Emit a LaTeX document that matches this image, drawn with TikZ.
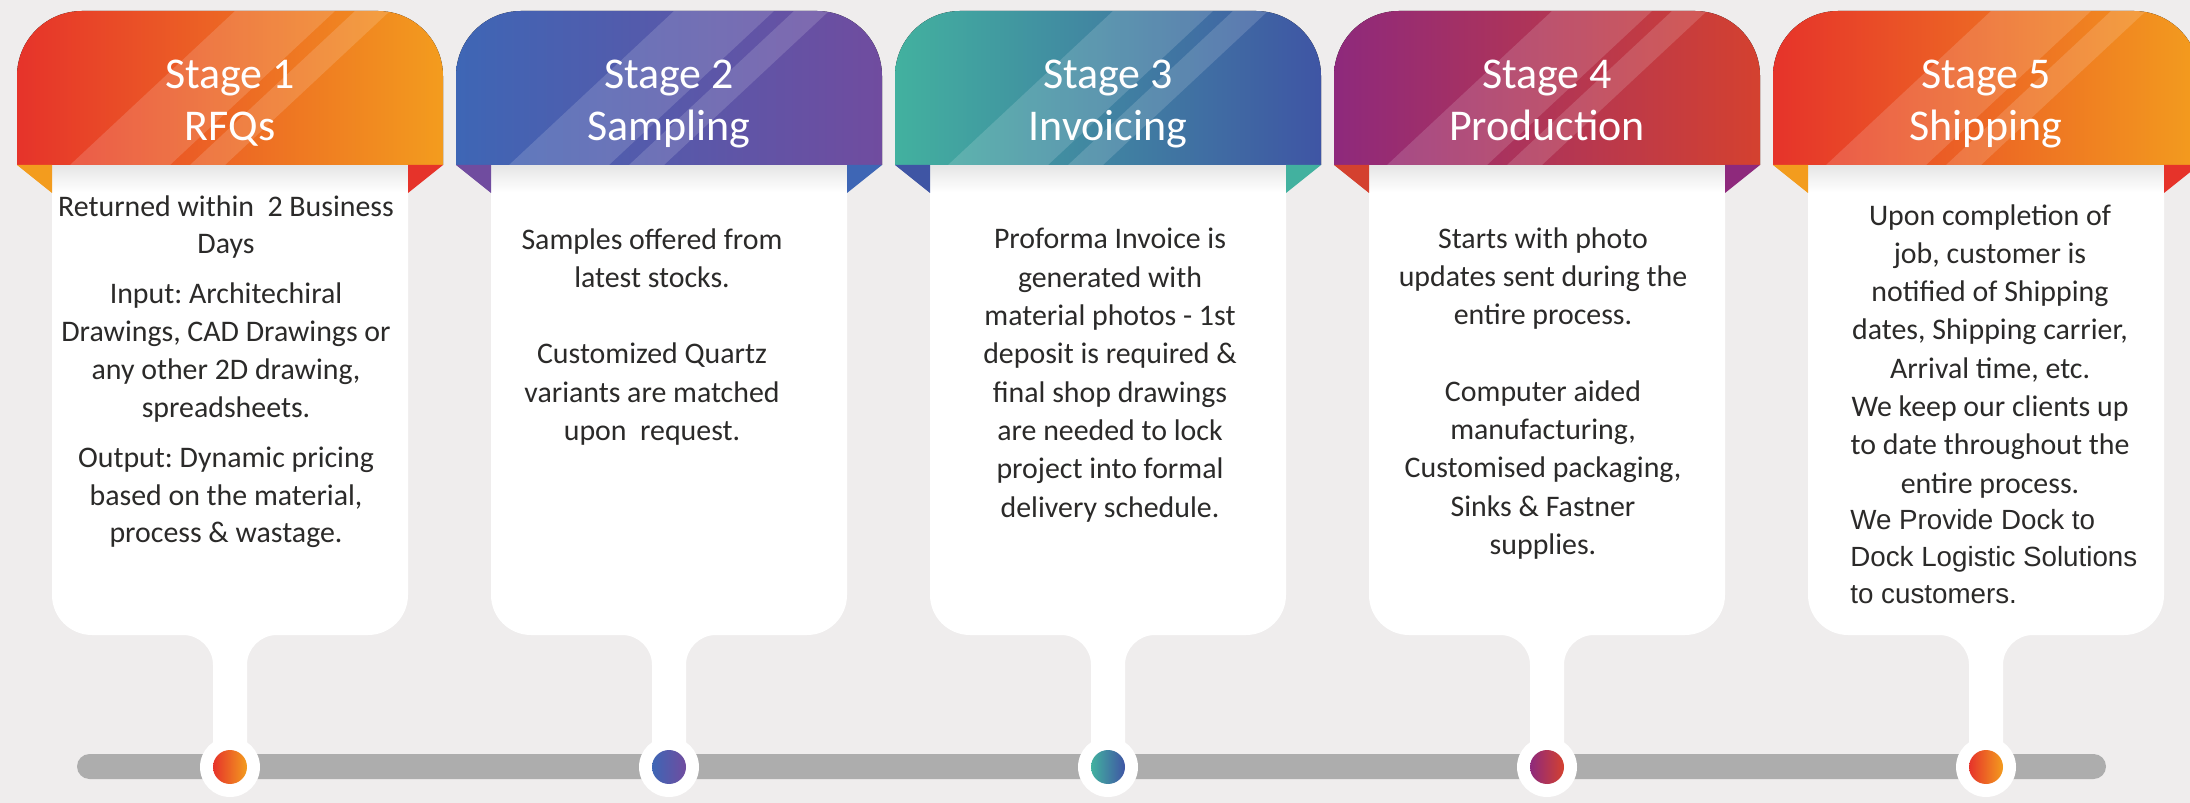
\documentclass[tikz,border=0pt]{standalone}
\usepackage{fontspec}
\setmainfont{Carlito}
\newfontfamily\dockfont{Liberation Sans}
\usetikzlibrary{calc}
\frenchspacing

\definecolor{bgc}{HTML}{EFEDED}
\definecolor{barc}{HTML}{ADADAD}
\definecolor{ink}{HTML}{2B2A29}
\definecolor{redA}{HTML}{E6332A}
\definecolor{orangeA}{HTML}{F39C1E}
\definecolor{blueA}{HTML}{3E66B5}
\definecolor{purpleA}{HTML}{704C9F}
\definecolor{tealA}{HTML}{42B19F}
\definecolor{navyA}{HTML}{3F55A4}
\definecolor{plumA}{HTML}{8E297C}
\definecolor{brickA}{HTML}{D4412F}

\begin{document}
\begin{tikzpicture}[x=0.02cm, y=-0.02cm,
    headtxt/.style={font=\fontsize{25pt}{29.6pt}\selectfont, text=white, align=center, inner sep=0pt, anchor=north},
    bodytxt/.style={font=\fontsize{17pt}{21.8pt}\selectfont, text=ink, align=center, inner sep=0pt, anchor=north},
    docktxt/.style={font=\dockfont\fontsize{15.8pt}{21pt}\selectfont, text=ink, align=left, inner sep=0pt, anchor=north west},
    card/.style={fill=white},
    shadowband/.style={top color=black!10, bottom color=white},
    halo/.style={circle, fill=white, minimum size=1.2cm, inner sep=0pt},
    dot/.style={circle, minimum size=0.68cm, inner sep=0pt},
    stripe/.style={white, opacity=0.15},
    stripes/.style={path picture={
        \fill[stripe] ($(path picture bounding box.south)+(-160,0)$) -- ($(path picture bounding box.south)+(-60,0)$)
            -- ($(path picture bounding box.north)+(105,0)$) -- ($(path picture bounding box.north)+(5,0)$) -- cycle;
        \fill[stripe] ($(path picture bounding box.south)+(-40,0)$) -- ($(path picture bounding box.south)+(-5,0)$)
            -- ($(path picture bounding box.north)+(160,0)$) -- ($(path picture bounding box.north)+(125,0)$) -- cycle;}}]

    \useasboundingbox (0,0) rectangle (2190,803);
    \fill[bgc] (0,0) rectangle (2190,803);

    % timeline bar
    \fill[barc, rounded corners=0.25cm] (77,754) rectangle (2106,779);

    % stage 1
    \fill[card] (230-178,150) -- (230-178,595) arc[start angle=180, end angle=90, radius=40] -- (230-47,635) arc[start angle=270, end angle=360, radius=30] -- (230-17,767) -- (230+17,767) -- (230+17,665) arc[start angle=180, end angle=270, radius=30] -- (230+138,635) arc[start angle=90, end angle=0, radius=40] -- (230+178,150) -- cycle;
    \shade[shadowband] (230-178,165) rectangle (230+178,192);
    \fill[left color=redA, right color=orangeA, stripes] (230-213,165) -- (230-213,76) arc[start angle=180, end angle=270, radius=65] -- (230+148,11) arc[start angle=270, end angle=360, radius=65] -- (230+213,165) -- cycle;
    \fill[orangeA] (230-213,165) -- (230-178,165) -- (230-178,193) -- cycle;
    \fill[redA] (230+178,165) -- (230+213,165) -- (230+178,193) -- cycle;
    \node[halo] (halo1) at (230,767) {};
    \node[dot, left color=redA, right color=orangeA] (dot1) at (230,767) {};

    % stage 2
    \fill[card] (669-178,150) -- (669-178,595) arc[start angle=180, end angle=90, radius=40] -- (669-47,635) arc[start angle=270, end angle=360, radius=30] -- (669-17,767) -- (669+17,767) -- (669+17,665) arc[start angle=180, end angle=270, radius=30] -- (669+138,635) arc[start angle=90, end angle=0, radius=40] -- (669+178,150) -- cycle;
    \shade[shadowband] (669-178,165) rectangle (669+178,192);
    \fill[left color=blueA, right color=purpleA, stripes] (669-213,165) -- (669-213,76) arc[start angle=180, end angle=270, radius=65] -- (669+148,11) arc[start angle=270, end angle=360, radius=65] -- (669+213,165) -- cycle;
    \fill[purpleA] (669-213,165) -- (669-178,165) -- (669-178,193) -- cycle;
    \fill[blueA] (669+178,165) -- (669+213,165) -- (669+178,193) -- cycle;
    \node[halo] (halo2) at (669,767) {};
    \node[dot, left color=blueA, right color=purpleA] (dot2) at (669,767) {};

    % stage 3
    \fill[card] (1108-178,150) -- (1108-178,595) arc[start angle=180, end angle=90, radius=40] -- (1108-47,635) arc[start angle=270, end angle=360, radius=30] -- (1108-17,767) -- (1108+17,767) -- (1108+17,665) arc[start angle=180, end angle=270, radius=30] -- (1108+138,635) arc[start angle=90, end angle=0, radius=40] -- (1108+178,150) -- cycle;
    \shade[shadowband] (1108-178,165) rectangle (1108+178,192);
    \fill[left color=tealA, right color=navyA, stripes] (1108-213,165) -- (1108-213,76) arc[start angle=180, end angle=270, radius=65] -- (1108+148,11) arc[start angle=270, end angle=360, radius=65] -- (1108+213,165) -- cycle;
    \fill[navyA] (1108-213,165) -- (1108-178,165) -- (1108-178,193) -- cycle;
    \fill[tealA] (1108+178,165) -- (1108+213,165) -- (1108+178,193) -- cycle;
    \node[halo] (halo3) at (1108,767) {};
    \node[dot, left color=tealA, right color=navyA] (dot3) at (1108,767) {};

    % stage 4
    \fill[card] (1547-178,150) -- (1547-178,595) arc[start angle=180, end angle=90, radius=40] -- (1547-47,635) arc[start angle=270, end angle=360, radius=30] -- (1547-17,767) -- (1547+17,767) -- (1547+17,665) arc[start angle=180, end angle=270, radius=30] -- (1547+138,635) arc[start angle=90, end angle=0, radius=40] -- (1547+178,150) -- cycle;
    \shade[shadowband] (1547-178,165) rectangle (1547+178,192);
    \fill[left color=plumA, right color=brickA, stripes] (1547-213,165) -- (1547-213,76) arc[start angle=180, end angle=270, radius=65] -- (1547+148,11) arc[start angle=270, end angle=360, radius=65] -- (1547+213,165) -- cycle;
    \fill[brickA] (1547-213,165) -- (1547-178,165) -- (1547-178,193) -- cycle;
    \fill[plumA] (1547+178,165) -- (1547+213,165) -- (1547+178,193) -- cycle;
    \node[halo] (halo4) at (1547,767) {};
    \node[dot, left color=plumA, right color=brickA] (dot4) at (1547,767) {};

    % stage 5
    \fill[card] (1986-178,150) -- (1986-178,595) arc[start angle=180, end angle=90, radius=40] -- (1986-47,635) arc[start angle=270, end angle=360, radius=30] -- (1986-17,767) -- (1986+17,767) -- (1986+17,665) arc[start angle=180, end angle=270, radius=30] -- (1986+138,635) arc[start angle=90, end angle=0, radius=40] -- (1986+178,150) -- cycle;
    \shade[shadowband] (1986-178,165) rectangle (1986+178,192);
    \fill[left color=redA, right color=orangeA, stripes] (1986-213,165) -- (1986-213,76) arc[start angle=180, end angle=270, radius=65] -- (1986+148,11) arc[start angle=270, end angle=360, radius=65] -- (1986+213,165) -- cycle;
    \fill[orangeA] (1986-213,165) -- (1986-178,165) -- (1986-178,193) -- cycle;
    \fill[redA] (1986+178,165) -- (1986+213,165) -- (1986+178,193) -- cycle;
    \node[halo] (halo5) at (1986,767) {};
    \node[dot, left color=redA, right color=orangeA] (dot5) at (1986,767) {};

    % headings
    \node[headtxt] (head1) at (230,60) {Stage 1\\RFQs};
    \node[headtxt] (head2) at (669,60) {Stage 2\\Sampling};
    \node[headtxt] (head3) at (1108,60) {Stage 3\\Invoicing};
    \node[headtxt] (head4) at (1547,60) {Stage 4\\Production};
    \node[headtxt] (head5) at (1986,60) {Stage 5\\Shipping};

    % card texts
    \node[bodytxt, font=\fontsize{17pt}{21.5pt}\selectfont] (text1) at (226,195) {Returned within\ \ 2 Business\\Days\\[7pt]Input: Architechiral\\Drawings, CAD Drawings or\\any other 2D drawing,\\spreadsheets.\\[7pt]Output: Dynamic pricing\\based on the material,\\process \& wastage.};
    \node[bodytxt] (text2) at (652,228) {Samples offered from\\latest stocks.\\[21.8pt]Customized Quartz\\variants are matched\\upon\ \ request.};
    \node[bodytxt] (text3) at (1110,228) {Proforma Invoice is\\generated with\\material photos - 1st\\deposit is required \&\\final shop drawings\\are needed to lock\\project into formal\\delivery schedule.};
    \node[bodytxt] (text4) at (1543,227) {Starts with photo\\updates sent during the\\entire process.\\[21.8pt]Computer aided\\manufacturing,\\Customised packaging,\\Sinks \& Fastner\\supplies.};
    \node[bodytxt] (text5) at (1990,204) {Upon completion of\\job, customer is\\notified of Shipping\\dates, Shipping carrier,\\Arrival time, etc.\\We keep our clients up\\to date throughout the\\entire process.};
    \node[docktxt] (dock5) at (1850,509) {We Provide Dock to\\Dock Logistic Solutions\\to customers.};
\end{tikzpicture}
\end{document}
